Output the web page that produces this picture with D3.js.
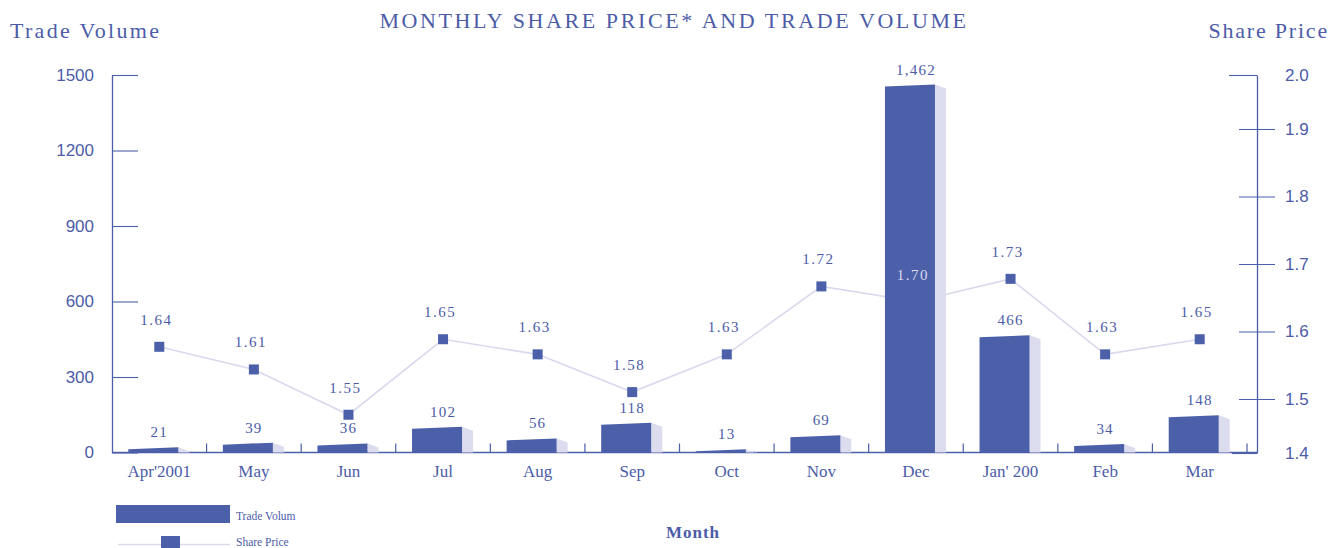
<!DOCTYPE html>
<html>
<head>
<meta charset="utf-8">
<script src="https://cdn.jsdelivr.net/npm/d3@7"></script>
<style>
  body { margin: 0; background: #fff; }
  svg { display: block; }
  text { fill: #4c5ca8; }
  .serif { font-family: "Liberation Serif", "DejaVu Serif", serif; }
  .sans { font-family: "Liberation Sans", Arial, sans-serif; }
</style>
</head>
<body>
<script>
const months = ["Apr'2001", "May", "Jun", "Jul", "Aug", "Sep", "Oct", "Nov", "Dec", "Jan' 200", "Feb", "Mar"]
const volume = [21, 39, 36, 102, 56, 118, 13, 69, 1462, 466, 34, 148]
const price = [1.64, 1.61, 1.55, 1.65, 1.63, 1.58, 1.63, 1.72, 1.70, 1.73, 1.63, 1.65]
const volumeTicks = [0, 300, 600, 900, 1200, 1500]
const priceTicks = [1.4, 1.5, 1.6, 1.7, 1.8, 1.9, 2.0]

const blue = '#4c5fa9'
const pale = '#dcdcef'
const lineCol = '#d9d9ee'

const width = 1329, height = 548
const svg = d3.select('body').append('svg')
  .attr('width', width).attr('height', height)

const x = d3.scaleBand().domain(months).range([112, 1247])
const y = d3.scaleLinear().domain([0, 1500]).range([452.5, 75])
const yp = d3.scaleLinear().domain([1.5, 2.0]).range([452.5, 75])
// the printed price axis is not evenly spaced
const ypAxis = d3.scaleLinear().domain([1.4, 1.5, 1.9, 2.0]).range([453, 399, 129, 75])

// titles
svg.append('text').attr('class', 'serif')
  .attr('x', 674).attr('y', 28).attr('text-anchor', 'middle')
  .attr('font-size', 22).attr('letter-spacing', 2.6)
  .text('MONTHLY SHARE PRICE* AND TRADE VOLUME')
svg.append('text').attr('class', 'serif')
  .attr('x', 10).attr('y', 38).attr('font-size', 22).attr('letter-spacing', 2.3)
  .text('Trade Volume')
svg.append('text').attr('class', 'serif')
  .attr('x', 1329).attr('y', 38).attr('text-anchor', 'end')
  .attr('font-size', 22).attr('letter-spacing', 1.8)
  .text('Share Price')

// left axis
const gl = svg.append('g').attr('transform', 'translate(112,0)')
  .call(d3.axisLeft(y).tickValues(volumeTicks).tickSize(-26).tickSizeOuter(0).tickPadding(18)
    .tickFormat(d3.format('d')))
gl.select('.domain').attr('stroke', blue).attr('stroke-width', 1.3)
gl.selectAll('.tick line').attr('stroke', blue).attr('stroke-width', 1.1)
gl.selectAll('.tick text').attr('class', 'sans').attr('font-size', 17).attr('fill', blue)

// right axis
const gr = svg.append('g').attr('transform', 'translate(1257,0)')
  .call(d3.axisRight(ypAxis).tickValues(priceTicks).tickSize(18).tickSizeOuter(0).tickPadding(10)
    .tickFormat(d3.format('.1f')))
gr.select('.domain').attr('stroke', blue).attr('stroke-width', 1.3)
gr.selectAll('.tick line').attr('stroke', blue).attr('stroke-width', 1.1)
  .attr('x1', d => d === 2.0 ? -28 : d === 1.4 ? -25 : -18)
  .attr('x2', d => d === 2.0 || d === 1.4 ? 0 : 18)
gr.selectAll('.tick text').attr('class', 'sans').attr('font-size', 17).attr('fill', blue)

// x axis
svg.append('line').attr('x1', 112).attr('x2', 1257)
  .attr('y1', y(0)).attr('y2', y(0)).attr('stroke', blue).attr('stroke-width', 1.5)
svg.append('g').selectAll('line').data(months.slice(1).concat(['end']))
  .join('line')
  .attr('x1', d => d === 'end' ? 1247 : x(d)).attr('x2', d => d === 'end' ? 1247 : x(d))
  .attr('y1', y(0) - 9).attr('y2', y(0)).attr('stroke', blue).attr('stroke-width', 1.2)
svg.append('g').selectAll('text').data(months).join('text')
  .attr('class', 'serif')
  .attr('x', d => x(d) + x.bandwidth() / 2).attr('y', 477)
  .attr('text-anchor', 'middle').attr('font-size', 17)
  .text(d => d)

const data = months.map((m, i) => ({month: m, volume: volume[i], price: price[i]}))
const cx = d => x(d.month) + x.bandwidth() / 2

// price line and markers (drawn under bars)
svg.append('path').datum(data)
  .attr('fill', 'none').attr('stroke', lineCol).attr('stroke-width', 1.6)
  .attr('d', d3.line().x(cx).y(d => yp(d.price)))
svg.append('g').selectAll('rect').data(data).join('rect')
  .attr('x', d => cx(d) - 5).attr('y', d => yp(d.price) - 5)
  .attr('width', 10).attr('height', 10).attr('fill', blue)

// bars with a shaded side
const barW = 50, sideW = 11, barOff = -31
const bars = svg.append('g').selectAll('g').data(data).join('g')
bars.append('path').attr('fill', pale)
  .attr('d', d => {
    const x1 = cx(d) + barOff + barW, top = y(d.volume)
    return `M${x1},${top}L${x1 + sideW},${top + 4}L${x1 + sideW},${y(0)}L${x1},${y(0)}Z`
  })
bars.append('path').attr('fill', blue)
  .attr('d', d => {
    const x0 = cx(d) + barOff, top = y(d.volume)
    return `M${x0},${y(0)}L${x0},${top + 2}L${x0 + barW},${top}L${x0 + barW},${y(0)}Z`
  })

// value labels
svg.append('g').selectAll('text').data(data).join('text')
  .attr('class', 'serif')
  .attr('x', d => cx(d)).attr('y', d => y(d.volume) - 10)
  .attr('text-anchor', 'middle').attr('font-size', 15).attr('letter-spacing', 1.2)
  .text(d => d3.format(',')(d.volume))
svg.append('g').selectAll('text').data(data).join('text')
  .attr('class', 'serif')
  .attr('x', d => cx(d) - 3).attr('y', d => yp(d.price) - 22)
  .attr('text-anchor', 'middle').attr('font-size', 15).attr('letter-spacing', 1.5)
  .style('fill', d => yp(d.price) - 27 > y(d.volume) ? pale : null)
  .text(d => d3.format('.2f')(d.price))

// axis title
svg.append('text').attr('class', 'serif')
  .attr('x', 693).attr('y', 538).attr('text-anchor', 'middle')
  .attr('font-size', 17).attr('font-weight', 'bold').attr('letter-spacing', 1)
  .text('Month')

// legend
const lg = svg.append('g')
lg.append('rect').attr('x', 116).attr('y', 505).attr('width', 114).attr('height', 18).attr('fill', blue)
lg.append('text').attr('class', 'serif').attr('x', 236).attr('y', 520).attr('font-size', 11.5)
  .text('Trade Volum')
lg.append('line').attr('x1', 118).attr('x2', 230).attr('y1', 544.5).attr('y2', 544.5)
  .attr('stroke', lineCol).attr('stroke-width', 1.6)
lg.append('rect').attr('x', 161).attr('y', 536).attr('width', 19).attr('height', 18).attr('fill', blue)
lg.append('text').attr('class', 'serif').attr('x', 236).attr('y', 546).attr('font-size', 11.5)
  .text('Share Price')
</script>
</body>
</html>
